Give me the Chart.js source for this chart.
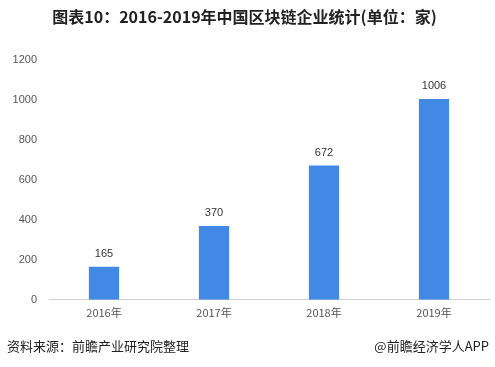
<!DOCTYPE html>
<html><head><meta charset="utf-8">
<script src="https://cdn.jsdelivr.net/npm/chart.js@4/dist/chart.umd.min.js"></script>
<style>
html,body{margin:0;padding:0;background:#fff;}
#wrap{position:relative;width:495px;height:367px;}
canvas{position:absolute;left:0;top:0;}
.foot{position:absolute;top:336px;font-family:"Noto Sans CJK SC","Microsoft YaHei",sans-serif;font-size:13px;color:#222;}
</style></head>
<body>
<div id="wrap">
<canvas id="c" width="495" height="367"></canvas>
<div class="foot" style="left:7px;">资料来源：前瞻产业研究院整理</div>
<div class="foot" style="right:6px;">@前瞻经济学人APP</div>
</div>
<script>
const categories = ["2016年","2017年","2018年","2019年"];
const values = [165, 370, 672, 1006];
const yTicks = [0,200,400,600,800,1000,1200];
const titleText = "图表10：2016-2019年中国区块链企业统计(单位：家)";

const labelPlugin = {
  id:'vals',
  afterDatasetsDraw(chart){
    const ctx = chart.ctx;
    const meta = chart.getDatasetMeta(0);
    ctx.save();
    ctx.font = '11px "Liberation Sans", Arial, sans-serif';
    ctx.fillStyle = '#333';
    ctx.textAlign = 'center';
    ctx.textBaseline = 'bottom';
    meta.data.forEach((b,i)=>{ ctx.fillText(String(values[i]), b.x, b.y - 7); });
    ctx.restore();
  }
};

new Chart(document.getElementById('c'), {
  type:'bar',
  data:{ labels:categories, datasets:[{ data:values, backgroundColor:'#4189E4', barPercentage:0.55, categoryPercentage:0.5 }]},
  plugins:[labelPlugin],
  options:{
    responsive:false, animation:false,
    layout:{ padding:{ left:0, right:6, top:0, bottom:42 } },
    plugins:{
      legend:{display:false}, tooltip:{enabled:false},
      title:{ display:true, text:titleText, color:'#222', font:{ family:'"Noto Sans CJK SC", sans-serif', size:16, weight:'bold' }, padding:{ top:7, bottom:34 } }
    },
    scales:{
      x:{ grid:{ display:false, drawTicks:false }, border:{ display:true, color:'#d0d0d0' },
          ticks:{ color:'#555', font:{ family:'"Noto Sans CJK SC", sans-serif', size:11 }, padding:6 } },
      y:{ min:0, max:1200, grid:{ display:false, drawTicks:false }, border:{ display:false },
          afterBuildTicks(ax){ ax.ticks = yTicks.map(v=>({value:v})); },
          afterFit(ax){ ax.width = 49; },
          ticks:{ color:'#555', font:{ family:'"Liberation Sans", Arial, sans-serif', size:11 }, padding:12,
                  callback:(v)=>String(v) } }
    }
  }
});
</script>
</body></html>
